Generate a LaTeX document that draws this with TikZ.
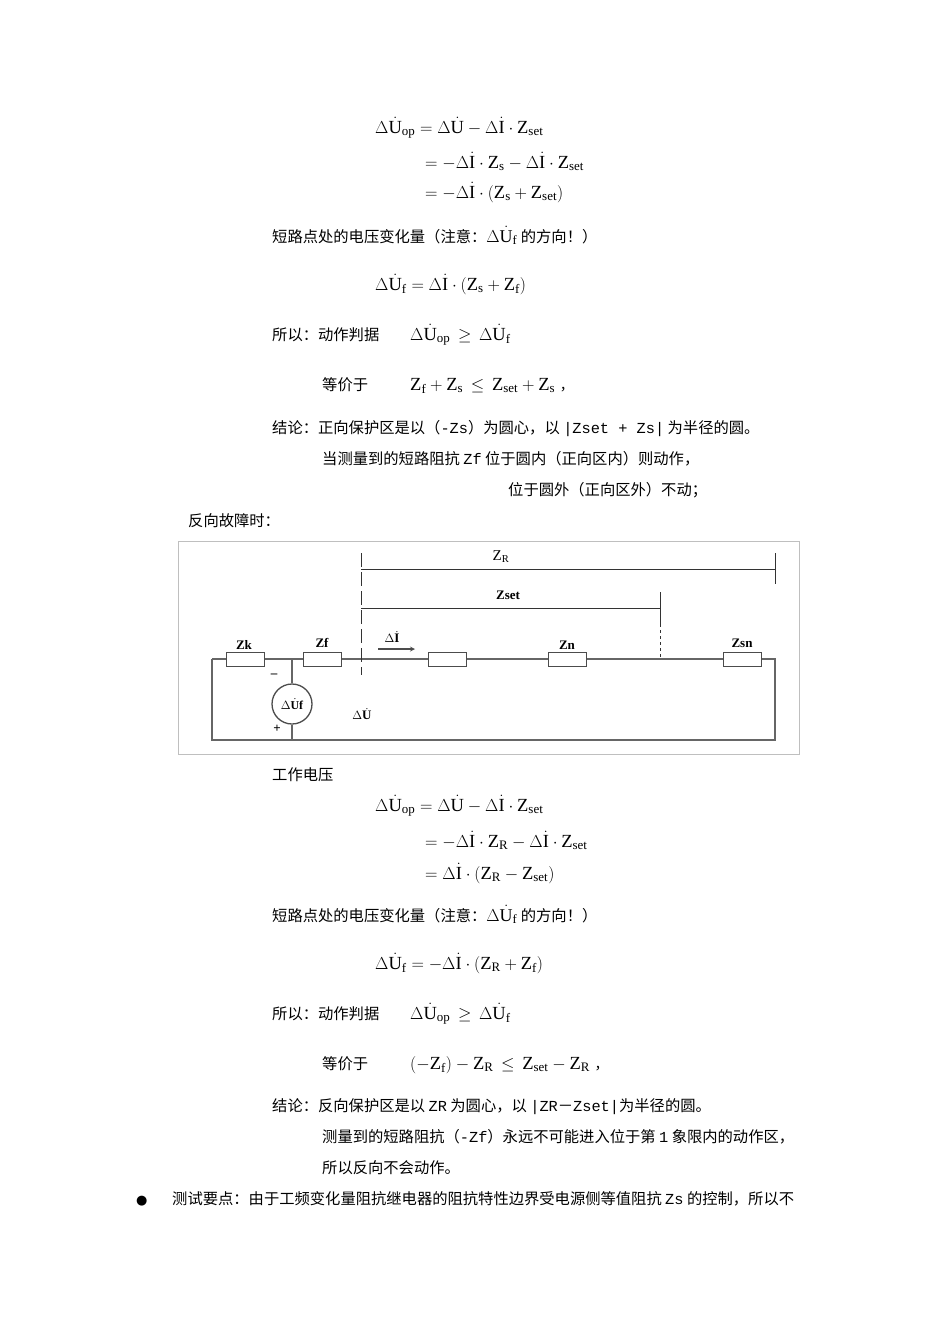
\documentclass[tikz,border=0pt]{standalone}
\usepackage{fontspec}
\setmainfont{Liberation Serif}
\newfontfamily\cjk{Noto Sans CJK SC}
\newfontfamily\mono{Liberation Mono}
\newfontfamily\dv{DejaVu Sans}
\begin{document}
\begin{tikzpicture}[x=1pt,y=-1pt,
  cn/.style={anchor=base west,inner sep=0pt,font=\cjk\fontsize{15.3}{17}\selectfont},
  fm/.style={anchor=base west,inner sep=0pt,font=\fontsize{18.5}{20}\selectfont},
  wire/.style={draw=black!60,line width=1.4pt},
  res/.style={draw=black!70,fill=white,line width=1pt,minimum width=38pt,minimum height=14pt,inner sep=0pt},
  cl/.style={inner sep=0pt,font=\fontsize{13}{14}\selectfont\bfseries}]
\useasboundingbox (0,0) rectangle (950,1344);
\newcommand{\dU}{\Delta\dot{\mathrm U}}
\newcommand{\dI}{\Delta\dot{\mathrm I}}
% top formulas
\node[fm] (f1) at (375,133) {$\dU_{\mathrm{op}}=\dU-\dI\cdot \mathrm Z_{\mathrm{set}}$};
\node[fm] (f2) at (425,168) {$=-\dI\cdot \mathrm Z_{\mathrm s}-\dI\cdot \mathrm Z_{\mathrm{set}}$};
\node[fm] (f3) at (425,198) {$=-\dI\cdot (\mathrm Z_{\mathrm s}+\mathrm Z_{\mathrm{set}})$};
\node[cn] (t1) at (272,242) {短路点处的电压变化量（注意：{\fontsize{18}{20}\selectfont$\dU_{\mathrm f}$} 的方向！）};
\node[fm] (f4) at (375,290) {$\dU_{\mathrm f}=\dI\cdot (\mathrm Z_{\mathrm s}+\mathrm Z_{\mathrm f})$};
\node[cn] (t2) at (272,340) {所以：动作判据};
\node[fm] (f5) at (410,340) {$\dU_{\mathrm{op}}\,\ge\,\dU_{\mathrm f}$};
\node[cn] (t3) at (322,390) {等价于};
\node[fm] (f6) at (410,390) {$\mathrm Z_{\mathrm f}+\mathrm Z_{\mathrm s}\,\le\,\mathrm Z_{\mathrm{set}}+\mathrm Z_{\mathrm s}$\ {\cjk\fontsize{14}{16}\selectfont ，}};
\node[cn] (t4) at (272,433) {结论：正向保护区是以（{\mono -Zs}）为圆心，以 {\mono |Zset + Zs|} 为半径的圆。};
\node[cn] (t5) at (322,464) {当测量到的短路阻抗 {\mono Zf} 位于圆内（正向区内）则动作，};
\node[cn] (t6) at (508,495) {位于圆外（正向区外）不动；};
\node[cn] (t7) at (188,526) {反向故障时：};
% circuit
\draw[black!25,line width=0.8pt] (178,541) rectangle (799,754);
\node[res] (zk) at (245,659) {};
\node[res] (zf) at (322,659) {};
\node[res] (r1) at (447,659) {};
\node[res] (zn) at (567,659) {};
\node[res] (zsn) at (742,659) {};
\coordinate (tl) at (212,659);
\coordinate (tr) at (775,659);
\coordinate (bl) at (212,740);
\coordinate (br) at (775,740);
\coordinate (j) at (292,659);
\coordinate (jb) at (292,740);
\node[draw=black!70,line width=1.3pt,circle,minimum size=40pt,inner sep=0pt,font=\fontsize{12}{12}\selectfont\bfseries] (src) at (292,704) {$\Delta\dot{\mathbf U}$f};
\draw[wire] (tl) -- (zk) -- (zf) -- (r1) -- (zn) -- (zsn) -- (tr) -- (br) -- (bl) -- (tl);
\draw[wire] (j) -- (src) -- (jb);
\foreach \n in {zk,zf,r1,zn,zsn}{\node[res] at (\n) {};}
\node[cl] (lzk) at (244,645) {Zk};
\node[cl] (lzf) at (322,643) {Zf};
\node[cl] (lzn) at (567,645) {Zn};
\node[cl] (lzsn) at (742,643) {Zsn};
\node[cl] (lm) at (274,676) {--};
\node[cl] (lp) at (277,729) {+};
\node[cl] (ldu) at (362,714) {$\Delta\dot{\mathbf U}$};
\node[cl] (ldi) at (392,637) {$\Delta\dot{\mathbf I}$};
\coordinate (a1) at (378,649);
\coordinate (a2) at (415,649);
\draw[black!70,line width=1.2pt,-stealth] (a1) -- (a2);
% ZR and Zset
\coordinate (zr1) at (361,569);
\coordinate (zr2) at (775,569);
\draw[black!80,line width=1pt] (zr1) -- (zr2);
\draw[black!80,line width=1pt] (775,553) -- (775,584);
\draw[black!80,line width=1pt,dash pattern=on 14pt off 5pt] (361,553) -- (361,675);
\node[inner sep=0pt,font=\fontsize{15}{16}\selectfont] (lzr) at (501,557) {Z$_{\mathrm R}$};
\coordinate (zs1) at (361,608);
\coordinate (zs2) at (660,608);
\draw[black!80,line width=1pt] (zs1) -- (zs2);
\draw[black!80,line width=1pt] (660,592) -- (660,624);
\draw[black!80,line width=1pt,dashed] (660,624) -- (660,657);
\node[cl] (lzset) at (508,595) {Zset};
% lower formulas
\node[cn] (t8) at (272,780) {工作电压};
\node[fm] (g1) at (375,811) {$\dU_{\mathrm{op}}=\dU-\dI\cdot \mathrm Z_{\mathrm{set}}$};
\node[fm] (g2) at (425,847) {$=-\dI\cdot \mathrm Z_{\mathrm R}-\dI\cdot \mathrm Z_{\mathrm{set}}$};
\node[fm] (g3) at (425,879) {$=\dI\cdot (\mathrm Z_{\mathrm R}-\mathrm Z_{\mathrm{set}})$};
\node[cn] (t9) at (272,921) {短路点处的电压变化量（注意：{\fontsize{18}{20}\selectfont$\dU_{\mathrm f}$} 的方向！）};
\node[fm] (g4) at (375,969) {$\dU_{\mathrm f}=-\dI\cdot (\mathrm Z_{\mathrm R}+\mathrm Z_{\mathrm f})$};
\node[cn] (t10) at (272,1019) {所以：动作判据};
\node[fm] (g5) at (410,1019) {$\dU_{\mathrm{op}}\,\ge\,\dU_{\mathrm f}$};
\node[cn] (t11) at (322,1069) {等价于};
\node[fm] (g6) at (410,1069) {$(-\mathrm Z_{\mathrm f})-\mathrm Z_{\mathrm R}\,\le\,\mathrm Z_{\mathrm{set}}-\mathrm Z_{\mathrm R}$\ {\cjk\fontsize{14}{16}\selectfont ，}};
\node[cn] (t12) at (272,1111) {结论：反向保护区是以 {\mono ZR} 为圆心，以 {\mono |ZR}－{\mono Zset|}为半径的圆。};
\node[cn] (t13) at (322,1142) {测量到的短路阻抗（{\mono -Zf}）永远不可能进入位于第 {\mono 1} 象限内的动作区，};
\node[cn] (t14) at (322,1173) {所以反向不会动作。};
\node[anchor=base west,inner sep=0pt,font=\dv\fontsize{13}{14}\selectfont] (bul) at (136,1204) {●};
\node[cn] (t15) at (172,1204) {测试要点：由于工频变化量阻抗继电器的阻抗特性边界受电源侧等值阻抗 {\mono Zs} 的控制，所以不};
\end{tikzpicture}
\end{document}
